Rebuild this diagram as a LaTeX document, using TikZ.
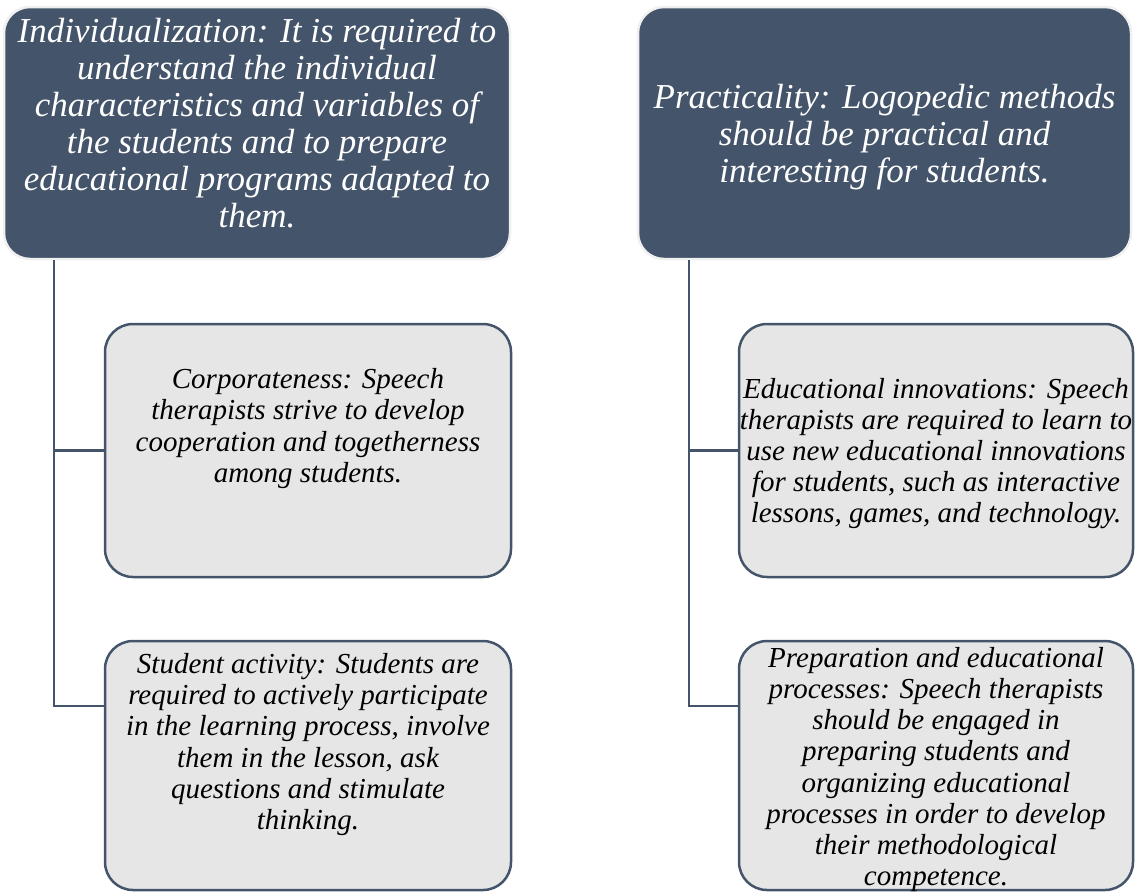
\documentclass[tikz,border=0pt]{standalone}
\usepackage{fontspec}
\setmainfont{Liberation Serif}
\definecolor{slate}{HTML}{44546A}
\definecolor{pale}{HTML}{E7E6E6}
\begin{document}
\begin{tikzpicture}[x=1pt,y=-1pt,
  headbox/.style={rounded corners=26pt, fill=slate, draw=gray!12, line width=2.5pt,
    inner sep=0pt},
  headtext/.style={text=white, align=center, inner sep=0pt,
    font=\fontsize{35}{37}\selectfont\itshape},
  subbox/.style={rounded corners=28pt, fill=pale, draw=slate, line width=2.5pt,
    inner sep=0pt},
  subtext/.style={align=center, inner sep=0pt,
    font=\fontsize{29}{31.1}\selectfont\itshape},
  link/.style={draw=slate, line width=2.5pt}]
\useasboundingbox (0,0) rectangle (1135,892);

% top-level headings
\node[headbox, minimum width=506pt, minimum height=252pt] (lt) at (257,133) {};
\node[headtext] (ltt) at ([yshift=10pt]lt.center)
  {Individualization: It is required to\\ understand the individual\\
   characteristics and variables of\\ the students and to prepare\\
   educational programs adapted to\\ them.};
\node[headbox, minimum width=493pt, minimum height=252pt] (rt) at (884.5,133) {};
\node[headtext] (rtt) at ([yshift=-4pt]rt.center)
  {Practicality: Logopedic methods\\ should be practical and\\
   interesting for students.};

% sub-items, left column
\node[subbox, minimum width=406pt, minimum height=253pt] (lc1) at (308,450.5) {};
\node[subtext] (lc1t) at ([yshift=22pt]lc1.center)
  {Corporateness: Speech\\ therapists strive to develop\\
   cooperation and togetherness\\ among students.};
\node[subbox, minimum width=406pt, minimum height=249pt] (lc2) at (308,765.5) {};
\node[subtext] (lc2t) at ([yshift=21pt]lc2.center)
  {Student activity: Students are\\ required to actively participate\\
   in the learning process, involve\\ them in the lesson, ask\\
   questions and stimulate\\ thinking.};

% sub-items, right column
\node[subbox, minimum width=394pt, minimum height=253pt] (rc1) at (936,450.5) {};
\node[subtext] (rc1t) at ([yshift=-3pt]rc1.center)
  {Educational innovations: Speech\\ therapists are required to learn to\\
   use new educational innovations\\ for students, such as interactive\\
   lessons, games, and technology.};
\node[subbox, minimum width=394pt, minimum height=249pt] (rc2) at (936,765.5) {};
\node[subtext] (rc2t) at ([yshift=-4pt]rc2.center)
  {Preparation and educational\\ processes: Speech therapists\\
   should be engaged in\\ preparing students and\\
   organizing educational\\ processes in order to develop\\
   their methodological\\ competence.};

% connectors
\draw[link] (lt.south -| 54,0) |- (lc1.west);
\draw[link] (lt.south -| 54,0) |- (lc2.west |- 0,706);
\draw[link] (rt.south -| 689,0) |- (rc1.west);
\draw[link] (rt.south -| 689,0) |- (rc2.west |- 0,706);
\end{tikzpicture}
\end{document}
